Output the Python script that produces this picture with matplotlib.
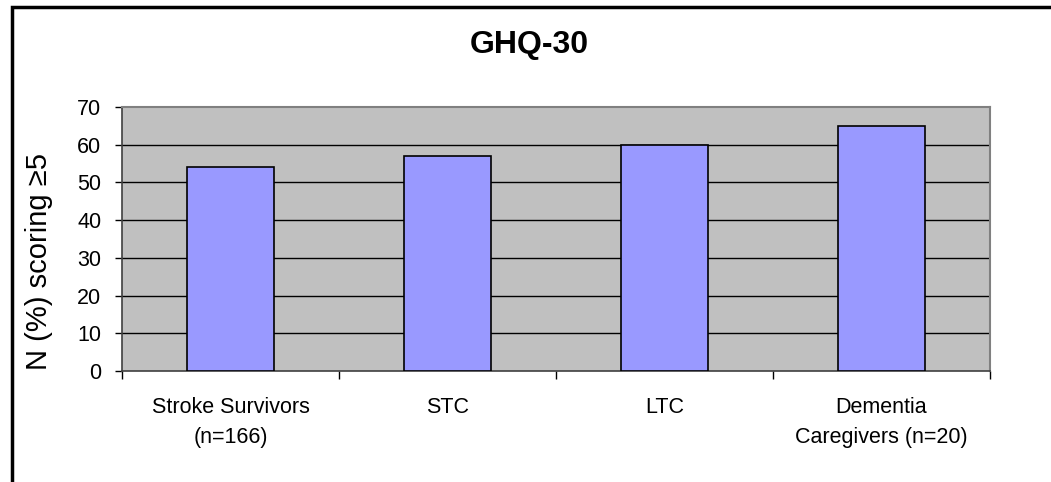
import matplotlib
matplotlib.use("Agg")
from matplotlib import pyplot as plt
from matplotlib.patches import Rectangle

plt.rcParams['font.family'] = ['Liberation Sans', 'DejaVu Sans']

categories = ["Stroke Survivors\n(n=166)", "STC", "LTC", "Dementia\nCaregivers (n=20)"]
values = [54, 57, 60, 65]
yticks = [0, 10, 20, 30, 40, 50, 60, 70]

W, H = 1051, 482
fig = plt.figure(figsize=(W / 100, H / 100), dpi=100)

# outer frame running off the page
fig.add_artist(Rectangle((12 / W, -0.2), 1.5, 1.2 - 7 / H,
                         transform=fig.transFigure, fill=False,
                         edgecolor='black', linewidth=2.5, clip_on=False))

ax = fig.add_axes([122 / W, 1 - 371 / H, (990 - 122) / W, (371 - 107) / H])
ax.set_facecolor('#C0C0C0')

x = list(range(len(categories)))
ax.bar(x, values, width=0.4, color='#9999FF', edgecolor='black', linewidth=1.2, zorder=3)

ax.set_xlim(-0.5, len(categories) - 0.5)
ax.set_ylim(0, 70)
ax.set_yticks(yticks)
for v in yticks[1:-1]:
    ax.axhline(v, color='black', linewidth=1, zorder=1)

ax.set_xticks(x)
ax.set_xticklabels(categories, fontsize=15.5, linespacing=1.55)
ax.tick_params(axis='x', which='major', length=0, pad=19)
ax.set_xticks([i - 0.5 for i in range(len(categories) + 1)], minor=True)
ax.tick_params(axis='x', which='minor', length=6, width=1, color='black', direction='out')
ax.tick_params(axis='y', labelsize=15.5, length=5, width=1, pad=10, direction='out')

for s in ['left', 'bottom']:
    ax.spines[s].set_color('#404040')
    ax.spines[s].set_linewidth(1.2)
for s in ['top', 'right']:
    ax.spines[s].set_color('#808080')
    ax.spines[s].set_linewidth(1.5)

fig.text(529 / W, 1 - 45 / H, "GHQ-30", fontsize=23, fontweight='bold', ha='center', va='center')
fig.text(39 / W, 1 - 262 / H, "N (%) scoring \u22655", fontsize=21, rotation=90, ha='center', va='center')

fig.savefig("out.png", dpi=100)
